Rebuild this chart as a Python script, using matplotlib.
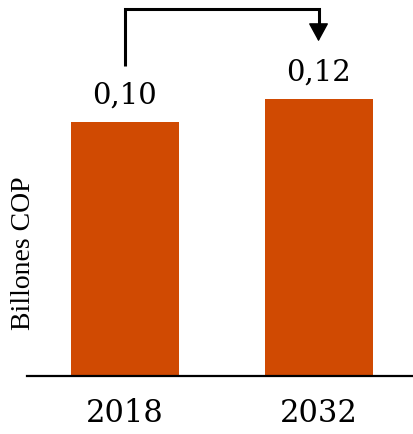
import numpy as np
import matplotlib
matplotlib.use('Agg')
import matplotlib.pyplot as plt

years = ['2018', '2032']
values = np.array([0.10, 0.12])
labels = ['0,10', '0,12']

bar_color = '#D04A02'
base = -0.121  # baseline of the bars (axis floor)

fig = plt.figure(figsize=(4.13, 4.34), dpi=100)
ax = fig.add_axes([27 / 413, 58 / 434, 386 / 413, 376 / 434])

x = np.arange(len(years))
ax.bar(x, values - base, bottom=base, width=0.558, color=bar_color)

ax.set_xlim(-0.506, 1.488)
ax.set_ylim(base, base + 0.327)

for xi, v, lab in zip(x, values, labels):
    ax.text(xi, v + 0.011, lab, ha='center', va='bottom',
            family='DejaVu Serif', fontsize=21)

# arrow from first bar to second
y_start = values[0] + 0.0487
y_top = values[0] + 0.0983
y_end = values[0] + 0.0700
ax.plot([x[0], x[0], x[1], x[1]], [y_start, y_top, y_top, y_end + 0.012],
        color='black', lw=2.2, solid_capstyle='butt', solid_joinstyle='miter')
ax.annotate('', xy=(x[1], y_end), xytext=(x[1], y_end + 0.013),
            arrowprops=dict(arrowstyle='-|>,head_length=0.55,head_width=0.3',
                            color='black', lw=1.0,
                            mutation_scale=21, shrinkA=0, shrinkB=0))

for s in ['left', 'right', 'top']:
    ax.spines[s].set_visible(False)
ax.spines['bottom'].set_linewidth(1.6)
ax.set_yticks([])
ax.set_xticks(x)
ax.set_xticklabels(years, family='DejaVu Serif', fontsize=22)
ax.tick_params(axis='x', length=0, pad=16)

fig.text(24 / 413, 1 - 253 / 434, 'Billones COP', rotation=90, ha='center',
         va='center', family='Liberation Serif', fontsize=20)

fig.savefig('out.png', dpi=100)
